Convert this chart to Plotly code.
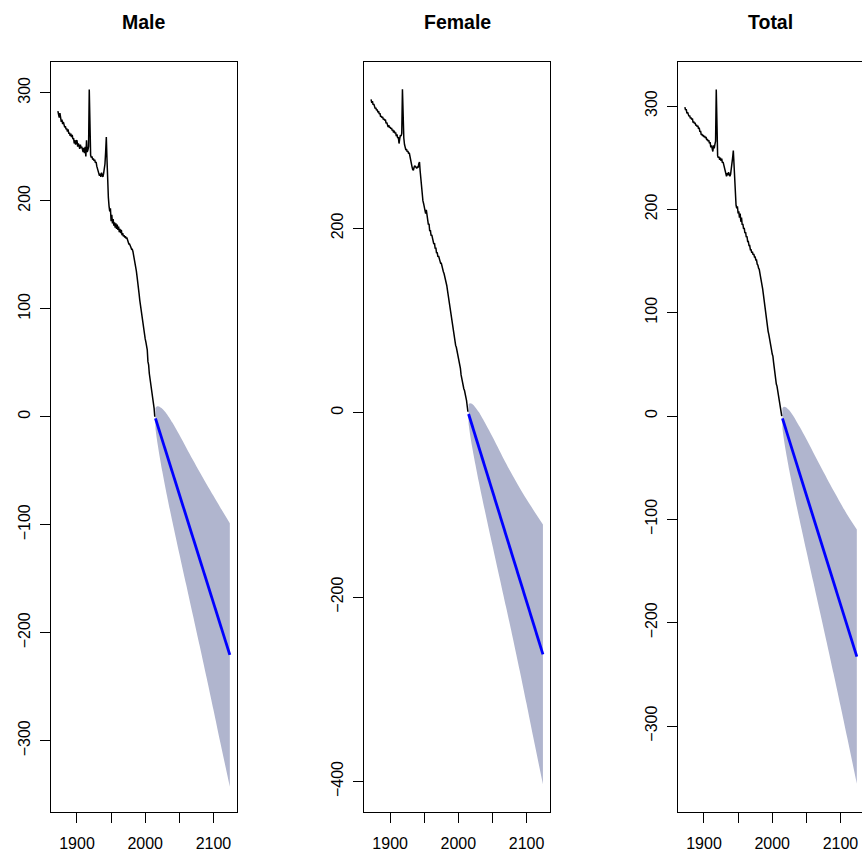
import plotly.graph_objects as go

# ---------------- data ----------------
obs_years = list(range(1872, 2015))

male_kt = [
    283, 280, 277, 281, 276, 273, 275, 271, 273, 270,
    268, 269, 266, 267, 264, 266, 262, 263, 260, 262,
    259, 261, 257, 258, 253, 256, 252, 255, 256, 250,
    253, 251, 248, 252, 249, 250, 247, 245, 249, 244,
    250, 241, 256, 245, 247, 250, 303, 244, 242, 240,
    241, 238, 239, 237, 238, 235, 236, 232, 230, 228,
    225, 223, 225, 222, 226, 223, 222, 225, 229, 234,
    245, 259, 238, 214, 203, 195, 190, 193, 181, 187,
    179, 183, 177, 180, 175, 179, 174, 178, 173, 176,
    171, 174, 170, 173, 168, 170, 167, 168, 166, 167,
    165, 166, 163, 163, 160, 160, 157, 157, 155, 155,
    153, 150, 145, 142, 138, 135, 130, 126, 120, 114,
    108, 103, 97, 94, 89, 86, 80, 77, 72, 69,
    65, 62, 51, 48, 40, 36, 31, 28, 23, 19,
    13, 8, 0,
]

female_kt = [
    340, 336, 338, 334, 335, 331, 330, 331, 328, 329,
    326, 327, 324, 325, 321, 322, 320, 321, 318, 319,
    317, 318, 314, 315, 311, 310, 312, 309, 310, 308,
    309, 306, 307, 304, 306, 303, 304, 300, 302, 298,
    299, 292, 297, 301, 300, 303, 351, 299, 298, 291,
    287, 285, 286, 283, 284, 281, 282, 277, 274, 270,
    267, 264, 263, 266, 268, 267, 266, 265, 267, 266,
    270, 272, 262, 253, 243, 235, 230, 227, 223, 221,
    216, 220, 212, 211, 204, 205, 197, 198, 192, 193,
    188, 188, 183, 184, 178, 179, 173, 174, 169, 170,
    166, 166, 162, 162, 158, 157, 153, 151, 148, 146,
    143, 138, 133, 128, 122, 118, 113, 108, 101, 96,
    89, 85, 80, 77, 73, 71, 67, 66, 62, 59,
    52, 48, 41, 37, 31, 29, 26, 24, 21, 19,
    13, 7, 1,
]

total_kt = [
    299, 296, 297, 293, 294, 292, 290, 291, 288, 289,
    287, 288, 284, 285, 283, 284, 281, 282, 280, 281,
    278, 279, 275, 276, 272, 273, 271, 272, 270, 271,
    269, 270, 267, 268, 266, 267, 264, 265, 260, 262,
    258, 256, 262, 259, 263, 266, 316, 255, 252, 250,
    251, 248, 250, 247, 249, 245, 246, 243, 240, 237,
    234, 232, 235, 233, 236, 234, 232, 234, 238, 244,
    250, 257, 240, 226, 210, 204, 201, 203, 196, 198,
    192, 196, 188, 192, 185, 186, 181, 182, 177, 178,
    173, 174, 169, 169, 165, 165, 161, 161, 158, 159,
    156, 157, 154, 154, 151, 151, 147, 146, 143, 142,
    138, 135, 132, 128, 123, 118, 112, 106, 100, 95,
    90, 86, 82, 79, 74, 71, 66, 64, 60, 58,
    52, 46, 38, 36, 31, 29, 25, 23, 17, 14,
    9, 5, 0,
]

fc_years = [2015, 2017, 2020, 2025, 2030, 2040, 2050, 2060, 2070, 2080, 2090, 2100, 2110, 2124]

male_mean = [-1.5, -5.5, -11.6, -21.6, -31.6, -51.7, -71.8, -91.9, -112.0, -132.1, -152.2, -172.3, -192.4, -220.6]
male_upper = [8.0, 9.5, 9.4, 7.4, 3.9, -5.7, -16.8, -28.4, -40.0, -51.4, -62.5, -73.3, -84.0, -98.6]
male_lower = [-11.0, -20.5, -32.6, -50.6, -67.1, -97.7, -126.8, -155.4, -184.0, -212.6, -241.7, -271.3, -301.4, -342.6]

female_mean = [-1.4, -6.2, -13.4, -25.3, -37.3, -61.2, -85.1, -109.1, -133.0, -156.9, -180.9, -204.8, -228.7, -262.2]
female_upper = [9.1, 10.3, 9.6, 5.7, 0.7, -12.2, -26.1, -40.6, -55.0, -68.7, -81.7, -94.0, -105.5, -121.2]
female_lower = [-11.9, -22.7, -36.4, -56.3, -75.3, -110.2, -144.1, -177.6, -211.0, -244.9, -279.9, -315.8, -352.7, -403.2]

total_mean = [-2.3, -6.5, -12.9, -23.5, -34.0, -55.2, -76.3, -97.5, -118.7, -139.8, -161.0, -182.1, -203.3, -232.9]
total_upper = [7.7, 9.0, 8.6, 5.5, 1.0, -10.2, -22.3, -35.0, -47.7, -60.1, -72.3, -84.1, -95.6, -109.9]
total_lower = [-12.3, -22.0, -34.4, -52.5, -69.0, -100.2, -130.3, -160.0, -189.7, -219.3, -249.5, -280.1, -311.3, -355.9]

panel_titles = ["Male", "Female", "Total"]
x_tickvals = [1900, 1950, 2000, 2050, 2100]
x_ticktext = ["1900", "", "2000", "", "2100"]
male_yticks = [-300, -200, -100, 0, 100, 200, 300]
female_yticks = [-400, -200, 0, 200]
total_yticks = [-300, -200, -100, 0, 100, 200, 300]

# ---------------- styling / layout ----------------
W, H = 862, 854
FONT = "Liberation Sans, Arial, Helvetica, sans-serif"
FAN = "rgb(176,181,206)"

panels = [
    dict(obs=male_kt, mean=male_mean, up=male_upper, lo=male_lower,
         yticks=male_yticks, yrange=[-366.3, 328.9],
         xdom=[51 / W, 236.7 / W], xrange=[1861.92, 2134.08], mirror_y=True),
    dict(obs=female_kt, mean=female_mean, up=female_upper, lo=female_lower,
         yticks=female_yticks, yrange=[-433.5, 381.0],
         xdom=[364.2 / W, 549.8 / W], xrange=[1861.92, 2134.08], mirror_y=True),
    dict(obs=total_kt, mean=total_mean, up=total_upper, lo=total_lower,
         yticks=total_yticks, yrange=[-383.5, 343.1],
         xdom=[678.0 / W, 1.0], xrange=[1861.92, 1861.92 + 184.0 / 0.6823], mirror_y=False),
]

ydom = [(H - 812.3) / H, (H - 61.5) / H]

fig = go.Figure()
layout = dict(
    width=W, height=H,
    margin=dict(l=0, r=0, t=0, b=0),
    paper_bgcolor="white", plot_bgcolor="white",
    showlegend=False,
    font=dict(family=FONT, size=16, color="black"),
    annotations=[],
)

for i, p in enumerate(panels):
    n = "" if i == 0 else str(i + 1)
    xa, ya = "x" + n, "y" + n
    # prediction interval band: lower edge, then upper edge filled down to it
    fig.add_trace(go.Scatter(
        x=fc_years, y=p["lo"], xaxis=xa, yaxis=ya, mode="lines",
        line=dict(width=0, color=FAN, shape="spline", smoothing=0.8),
        hoverinfo="skip"))
    fig.add_trace(go.Scatter(
        x=fc_years, y=p["up"], xaxis=xa, yaxis=ya, mode="lines",
        fill="tonexty", fillcolor=FAN,
        line=dict(width=0, color=FAN, shape="spline", smoothing=0.8),
        hoverinfo="skip"))
    fig.add_trace(go.Scatter(
        x=obs_years, y=p["obs"], xaxis=xa, yaxis=ya, mode="lines",
        line=dict(color="black", width=1.5)))
    fig.add_trace(go.Scatter(
        x=fc_years, y=p["mean"], xaxis=xa, yaxis=ya, mode="lines",
        line=dict(color="#0000FF", width=2.8)))

    layout["xaxis" + n] = dict(
        domain=p["xdom"], anchor=ya, range=p["xrange"],
        showgrid=False, zeroline=False,
        showline=True, linecolor="black", linewidth=1, mirror=True,
        ticks="outside", ticklen=10, tickcolor="black", tickwidth=1,
        tickvals=x_tickvals, ticktext=x_ticktext,
        tickfont=dict(family=FONT, size=16, color="black"),
        ticklabelstandoff=6,
    )
    layout["yaxis" + n] = dict(
        domain=ydom, anchor=xa, range=p["yrange"],
        showgrid=False, zeroline=False,
        showline=True, linecolor="black", linewidth=1, mirror=p["mirror_y"],
        ticks="outside", ticklen=10, tickcolor="black", tickwidth=1,
        tickvals=p["yticks"], tickangle=-90,
        tickfont=dict(family=FONT, size=16, color="black"),
        ticklabelstandoff=4,
    )
    xc = (p["xdom"][0] + (p["xdom"][1] if i < 2 else 863.5 / W)) / 2
    layout["annotations"].append(dict(
        text="<b>%s</b>" % panel_titles[i], x=xc, y=1 - 22 / H,
        xref="paper", yref="paper", xanchor="center", yanchor="middle",
        showarrow=False, font=dict(family=FONT, size=19.5, color="black")))

fig.update_layout(**layout)
fig.write_html("out.html", config={"displayModeBar": False},
               post_script="document.body.style.margin='0px';document.body.style.overflow='hidden';")
